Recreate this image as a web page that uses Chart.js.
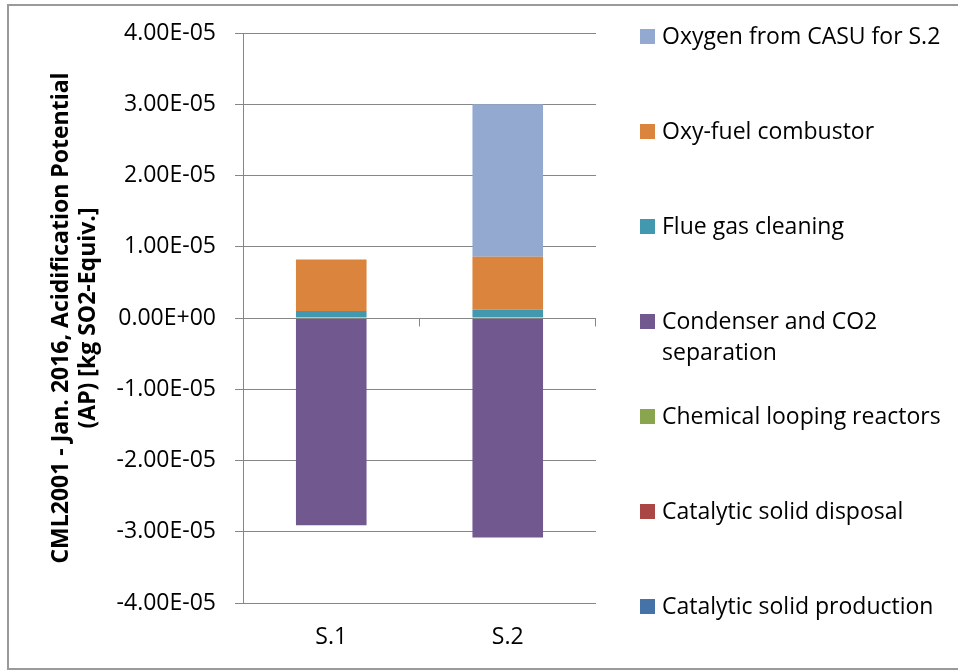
<!DOCTYPE html>
<html>
<head>
<meta charset="utf-8">
<script src="https://cdn.jsdelivr.net/npm/chart.js@4.4.0/dist/chart.umd.min.js"></script>
<style>
  body { margin: 0; background: #fff; }
  #wrap { position: relative; width: 958px; height: 670px; overflow: hidden; font-family: 'Open Sans', sans-serif; }
  #frame { position: absolute; left: 7px; top: 4px; width: 970px; height: 666px; border: 2px solid #9a9a9a; box-sizing: border-box; }
  #apChart { position: absolute; left: 0; top: 0; }
  #legend { position: absolute; left: 640px; top: 20px; }
  .item { display: flex; align-items: flex-start; height: 95px; }
  .sw { width: 15px; height: 15px; margin-top: 9px; margin-right: 7px; flex: none; }
  .txt { width: 292px; font-size: 23px; line-height: 31px; color: #000; }
</style>
</head>
<body>
<div id="wrap">
  <div id="frame"></div>
  <canvas id="apChart" width="958" height="670"></canvas>
  <div id="legend"></div>
</div>
<script>
// categories and series (kg SO2-Equiv.)
const categories = ['S.1', 'S.2'];
const catalyticSolidProduction = [0, 0];
const catalyticSolidDisposal = [0, 0];
const chemicalLoopingReactors = [0, 0];
const condenserCO2Separation = [-2.91e-5, -3.08e-5];
const flueGasCleaning = [1.0e-6, 1.2e-6];
const oxyFuelCombustor = [7.2e-6, 7.4e-6];
const oxygenFromCasu = [0, 2.14e-5];

// y axis range
const yMin = -4e-5;
const yMax = 4e-5;
const yStep = 1e-5;

const gridColor = '#868686';

Chart.defaults.font.family = "'Open Sans', sans-serif";
Chart.defaults.color = '#000';

function sci(v) {
    if (Math.abs(v) < 1e-12) v = 0;
    const [m, e] = v.toExponential(2).split('e');
    const sign = e[0] === '-' ? '-' : '+';
    return m + 'E' + sign + e.replace(/[+-]/, '').padStart(2, '0');
}

// zero axis line drawn over the bars, with category tick marks
const zeroAxis = {
    id: 'zeroAxis',
    afterDatasetsDraw(chart) {
        const { ctx, chartArea, scales: { x, y } } = chart;
        const y0 = Math.round(y.getPixelForValue(0)) + 0.5;
        ctx.save();
        ctx.strokeStyle = gridColor;
        ctx.lineWidth = 1;
        ctx.beginPath();
        ctx.moveTo(chartArea.left - 8, y0);
        ctx.lineTo(chartArea.right, y0);
        for (let i = 0; i < categories.length; i++) {
            const xb = Math.round(x.getPixelForValue(i + 0.5)) - 0.5;
            ctx.moveTo(xb, y0);
            ctx.lineTo(xb, y0 + 8);
        }
        ctx.stroke();
        ctx.restore();
    }
};

const ctx = document.getElementById('apChart');
const chart = new Chart(ctx, {
    type: 'bar',
    data: {
        labels: categories,
        datasets: [
            { label: 'Catalytic solid production', data: catalyticSolidProduction, backgroundColor: '#4572A7' },
            { label: 'Catalytic solid disposal', data: catalyticSolidDisposal, backgroundColor: '#AA4643' },
            { label: 'Chemical looping reactors', data: chemicalLoopingReactors, backgroundColor: '#89A54E' },
            { label: 'Condenser and CO2 separation', data: condenserCO2Separation, backgroundColor: '#71588F' },
            { label: 'Flue gas cleaning', data: flueGasCleaning, backgroundColor: '#4198AF' },
            { label: 'Oxy-fuel combustor', data: oxyFuelCombustor, backgroundColor: '#DB843D' },
            { label: 'Oxygen from CASU for S.2', data: oxygenFromCasu, backgroundColor: '#93A9CF' }
        ]
    },
    options: {
        responsive: false,
        animation: false,
        layout: { padding: { left: 0, top: 33, right: 362, bottom: 19 } },
        datasets: {
            bar: { categoryPercentage: 1, barPercentage: 0.4, borderWidth: 0 }
        },
        scales: {
            x: {
                stacked: true,
                afterFit(scale) { scale.height = 48; },
                grid: { display: false, drawTicks: false },
                border: { display: false },
                ticks: { padding: 21, maxRotation: 0, font: { size: 23 } }
            },
            y: {
                stacked: true,
                min: yMin,
                max: yMax,
                afterFit(scale) { scale.width = 243; },
                grid: { color: gridColor, lineWidth: 1, tickLength: 8 },
                border: { display: true, color: gridColor, width: 1 },
                ticks: {
                    stepSize: yStep,
                    padding: 19,
                    font: { size: 23 },
                    callback: v => sci(v)
                },
                title: {
                    display: true,
                    text: ['CML2001 - Jan. 2016, Acidification Potential', '(AP) [kg SO2-Equiv.]'],
                    font: { size: 23, weight: 'bold', lineHeight: 27 / 23 },
                    padding: { top: 48, bottom: 0 }
                }
            }
        },
        plugins: {
            legend: { display: false },
            tooltip: { enabled: false }
        }
    },
    plugins: [zeroAxis]
});

// legend, top to bottom in reverse series order
const legendEl = document.getElementById('legend');
chart.data.datasets.slice().reverse().forEach(ds => {
    const item = document.createElement('div');
    item.className = 'item';
    const sw = document.createElement('span');
    sw.className = 'sw';
    sw.style.background = ds.backgroundColor;
    const txt = document.createElement('span');
    txt.className = 'txt';
    txt.textContent = ds.label;
    item.appendChild(sw);
    item.appendChild(txt);
    legendEl.appendChild(item);
});
</script>
</body>
</html>
